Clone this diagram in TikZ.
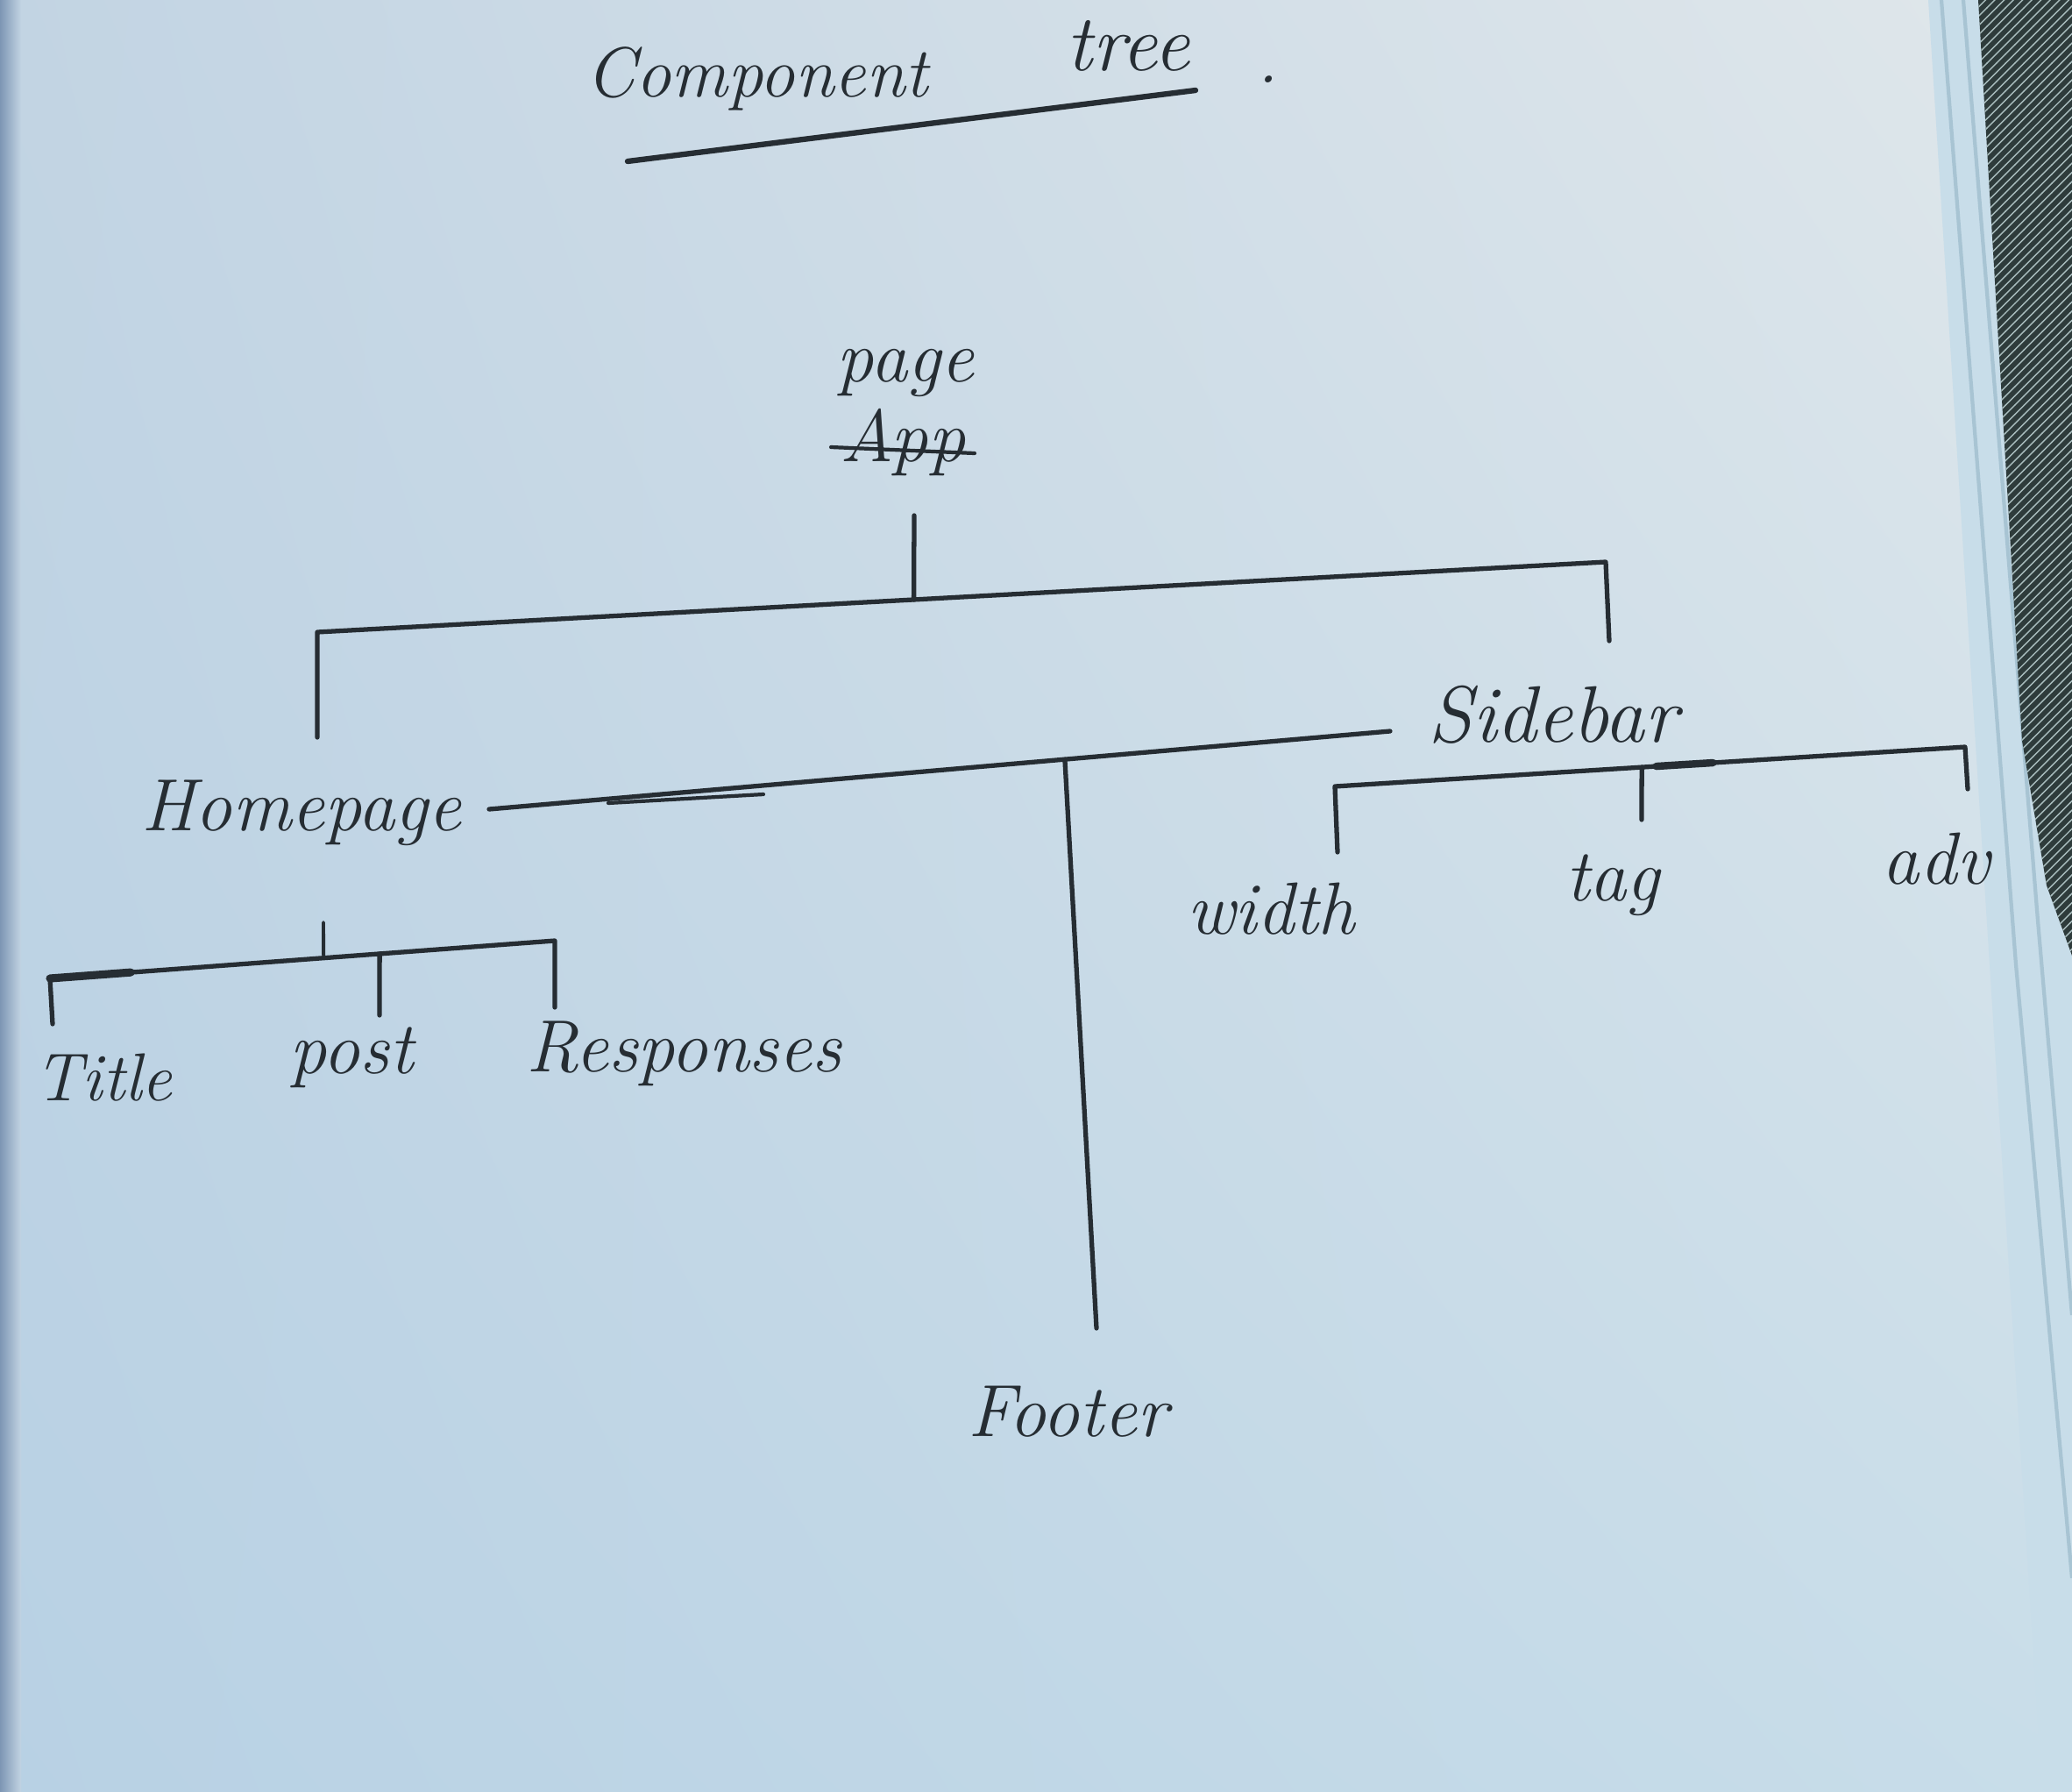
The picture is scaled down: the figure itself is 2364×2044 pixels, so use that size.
\documentclass[tikz,border=0pt]{standalone}
\usetikzlibrary{calc,patterns,shadings}
\definecolor{ink}{HTML}{262D33}
\definecolor{paperA}{HTML}{C2D4E3}
\definecolor{paperB}{HTML}{E0E7EB}
\definecolor{paperC}{HTML}{B8D1E4}
\definecolor{paperD}{HTML}{C8DDE9}
\definecolor{fabric}{HTML}{2E3B3B}
\definecolor{fabricLight}{HTML}{A9BDBE}
\definecolor{edgeline}{HTML}{A8C4D3}
\definecolor{leftedge}{HTML}{7D96B4}
\begin{document}
\begin{tikzpicture}[x=0.1mm,y=-0.1mm,
  hand/.style={font=\fontsize{24}{28}\selectfont\itshape, text=ink, inner sep=0pt},
  pen/.style={draw=ink, line width=1.5pt, line cap=round, line join=round}]
\useasboundingbox (0,0) rectangle (2364,2044);
% paper background
\shade[upper left=paperA, upper right=paperB, lower left=paperC, lower right=paperD]
  (0,0) rectangle (2364,2044);
\shade[left color=leftedge, right color=paperA] (0,0) rectangle (24,2044);
% page stack edges and fabric on the right
\fill[paperD] (2200,0) -- (2364,0) -- (2364,2044) -- (2330,2044) -- cycle;
\draw[edgeline, line width=1.2pt] (2215,0) -- (2300,1100) -- (2364,1800);
\draw[edgeline, line width=1.2pt] (2240,0) -- (2325,1050) -- (2364,1500);
\fill[fabric] (2257,0) -- (2364,0) -- (2364,1090) -- (2335,1010) -- (2307,845) -- cycle;
\fill[pattern=north east lines, pattern color=fabricLight] (2257,0) -- (2364,0) -- (2364,1090) -- (2335,1010) -- (2307,845) -- cycle;

% title
\node[hand, font=\fontsize{23}{28}\selectfont\itshape, anchor=base west] (title) at (668,110)
  {Component\hspace{45pt}\raisebox{3mm}{\fontsize{26}{30}\selectfont tree}\hspace{22pt}\raisebox{1.6mm}{.}};
\coordinate (ulA) at (716,184);
\coordinate (ulB) at (1364,103);
\draw[pen, line width=1.8pt] (ulA) -- (ulB);

% nodes
\node[hand] (page) at (1033,425) {page};
\node[hand] (app) at (1030,505) {App};
\draw[pen, line width=1.2pt] ([xshift=-1mm,yshift=-0.5mm]app.west) -- ([xshift=1mm,yshift=-1.2mm]app.east);
\node[hand] (homepage) at (344,927) {Homepage};
\node[hand, font=\fontsize{26}{30}\selectfont\itshape] (sidebar) at (1772,815) {Sidebar};
\node[hand] (footer) at (1218,1610) {Footer};
\node[hand] (width) at (1450,1037) {width};
\node[hand] (tag) at (1840,1010) {tag};
\node[hand] (adv) at (2209,980) {adv};
\node[hand, font=\fontsize{22}{26}\selectfont\itshape] (ttl) at (118,1229) {Title};
\node[hand] (post) at (401,1206) {post};
\node[hand] (resp) at (780,1202) {Responses};

% App branch
\coordinate (appstem) at (1043,588);
\coordinate (mainL) at (362,721);
\coordinate (mainR) at (1832,641);
\coordinate (hpdrop) at (362,841);
\coordinate (sbdrop) at (1836,731);
\draw[pen] (appstem) -- ($(mainL)!0.463!(mainR)$);
\draw[pen] (hpdrop) -- (mainL) -- (mainR) -- (sbdrop);

% Homepage -- Sidebar line with Footer drop
\coordinate (hsL) at (558,923);
\coordinate (hsR) at (1586,834);
\coordinate (hsX) at (694,916);
\coordinate (hsY) at (871,906);
\coordinate (fbot) at (1251,1515);
\draw[pen] (hsL) -- (hsR);
\draw[pen, line width=1.2pt] (hsX) -- (hsY);
\draw[pen] ($(hsL)!0.639!(hsR)$) -- (fbot);

% Sidebar children
\coordinate (sbL) at (1523,897);
\coordinate (sbR) at (2242,852);
\coordinate (wdrop) at (1526,972);
\coordinate (tdrop) at (1873,935);
\coordinate (adrop) at (2245,900);
\draw[pen] (wdrop) -- (sbL) -- (sbR) -- (adrop);
\draw[pen, line width=2.4pt] ($(sbL)!0.51!(sbR)$) -- ($(sbL)!0.6!(sbR)$);
\draw[pen] ($(sbL)!0.487!(sbR)$) -- (tdrop);

% Homepage children
\coordinate (hcL) at (57,1116);
\coordinate (hcR) at (633,1073);
\coordinate (hcstem) at (369,1052);
\coordinate (tidrop) at (60,1168);
\coordinate (podrop) at (433,1158);
\coordinate (redrop) at (633,1149);
\draw[pen, line width=1.1pt] (hcstem) -- ($(hcL)!0.542!(hcR)$);
\draw[pen] (tidrop) -- (hcL) -- (hcR) -- (redrop);
\draw[pen, line width=2.6pt] (hcL) -- ($(hcL)!0.16!(hcR)$);
\draw[pen] ($(hcL)!0.653!(hcR)$) -- (podrop);
\end{tikzpicture}
\end{document}
